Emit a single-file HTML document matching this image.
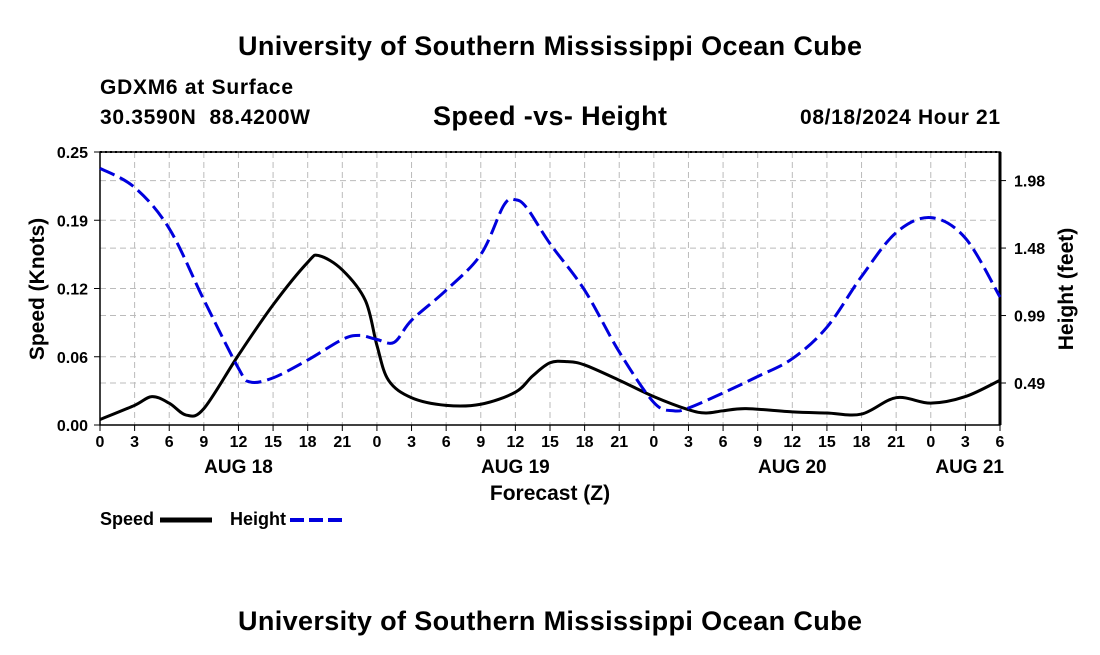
<!DOCTYPE html>
<html><head><meta charset="utf-8"><style>
body{margin:0;background:#fff;width:1100px;height:650px;overflow:hidden;font-family:"Liberation Sans",sans-serif;}
svg text{font-family:"Liberation Sans",sans-serif;font-weight:bold;fill:#000;white-space:pre;}
</style></head><body>
<svg id="c" width="1100" height="650">
<text x="550" y="55" font-size="27" text-anchor="middle" textLength="624">University of Southern Mississippi Ocean Cube</text>
<text x="100" y="94" font-size="21" textLength="193">GDXM6 at Surface</text>
<text x="100" y="124" font-size="21" textLength="210" xml:space="preserve">30.3590N  88.4200W</text>
<text x="550" y="125" font-size="27" text-anchor="middle" textLength="234">Speed -vs- Height</text>
<text x="1000" y="124" font-size="21" text-anchor="end" textLength="200">08/18/2024 Hour 21</text>
<text x="550" y="630" font-size="27" text-anchor="middle" textLength="624">University of Southern Mississippi Ocean Cube</text>
<g id="grid"></g><g id="axes"></g><g id="series"></g>
<text x="550" y="500" font-size="21" text-anchor="middle">Forecast (Z)</text>
<text transform="translate(44,289) rotate(-90)" font-size="21" text-anchor="middle">Speed (Knots)</text>
<text transform="translate(1073,289) rotate(-90)" font-size="21" text-anchor="middle">Height (feet)</text>
<g>
<text x="100" y="525" font-size="18">Speed</text>
<line x1="160" y1="520" x2="212" y2="520" stroke="#000" stroke-width="5"/>
<text x="230" y="525" font-size="18">Height</text>
<line x1="290" y1="520" x2="342" y2="520" stroke="#0000dd" stroke-width="4" stroke-dasharray="14,5"/>
</g>
</svg>
<script>
const speedHours=[0,3,4.5,6,7.5,9,12,15,18,19,21,23,24,25,27,30,33,36,37.5,39,40.5,42,45,48,51,52.5,54,56,60,63,66,69,72,75,78];
const speedValues=[0.005,0.018,0.026,0.020,0.009,0.015,0.064,0.110,0.149,0.155,0.142,0.114,0.073,0.041,0.025,0.018,0.019,0.030,0.045,0.057,0.058,0.055,0.041,0.026,0.014,0.011,0.013,0.015,0.012,0.011,0.010,0.025,0.020,0.026,0.041];
const heightHours=[0,3,6,9,12,13,15,18,21,22.5,24,25.5,27,30,33,35,36,37,39,42,45,48,49.7,51,54,57,60,63,66,69,72,75,78];
const heightValues=[2.06,1.92,1.62,1.10,0.60,0.50,0.53,0.66,0.81,0.84,0.81,0.79,0.95,1.17,1.43,1.79,1.83,1.77,1.51,1.17,0.72,0.35,0.29,0.31,0.42,0.54,0.67,0.90,1.27,1.59,1.70,1.55,1.12];
const xTickLabels=["0","3","6","9","12","15","18","21","0","3","6","9","12","15","18","21","0","3","6","9","12","15","18","21","0","3","6"];
const dayLabels=["AUG 18","AUG 19","AUG 20","AUG 21"];
const dayHours=[12,36,60,78];
const speedTicks=[0,0.0625,0.125,0.1875,0.25];
const speedTickLabels=["0.00","0.06","0.12","0.19","0.25"];
const heightTicks=[0.4925,0.985,1.4775,1.97];
const heightTickLabels=["0.49","0.99","1.48","1.98"];
const X0=100,X1=1000,Y0=425,Y1=152;
const x=h=>X0+h*(X1-X0)/78;
const ys=v=>Y0-v*(Y0-Y1)/0.25;
const yh=v=>Y0-(v-0.186)*137;
const NS="http://www.w3.org/2000/svg";
function mk(t,p,a){const e=document.createElementNS(NS,t);for(const k in a)e.setAttribute(k,a[k]);document.getElementById(p).appendChild(e);return e;}
xTickLabels.forEach((l,i)=>{const e=mk('line','grid',{x1:x(i*3),x2:x(i*3),y1:Y1,y2:Y0,stroke:'#bbb','stroke-dasharray':'6,4'});

});
speedTicks.forEach(v=>{const e=mk('line','grid',{x1:X0,x2:X1,y1:ys(v),y2:ys(v),stroke:'#bbb','stroke-dasharray':'6,4'});

});
heightTicks.forEach(v=>{const e=mk('line','grid',{x1:X0,x2:X1,y1:yh(v),y2:yh(v),stroke:'#bbb','stroke-dasharray':'6,4'});

});
const fr=mk('rect','axes',{x:X0,y:Y1,width:X1-X0,height:Y0-Y1,fill:'none',stroke:'#000','stroke-width':1.5});


mk('line','axes',{x1:X0,x2:X1,y1:Y1,y2:Y1,stroke:'#000','stroke-width':2,'stroke-dasharray':'2,3'});
mk('line','axes',{x1:X1,x2:X1,y1:Y1,y2:Y0,stroke:'#000','stroke-width':3});
xTickLabels.forEach((l,i)=>{mk('line','axes',{x1:x(i*3),x2:x(i*3),y1:Y0,y2:Y0+6,stroke:'#000'});
const t=mk('text','axes',{x:x(i*3),y:Y0+22,'font-size':16,'text-anchor':'middle'});t.textContent=l;

});
dayLabels.forEach((l,i)=>{const t=mk('text','axes',{x:x(dayHours[i]),y:473,'font-size':19,'text-anchor':i==3?'end':'middle'});if(i==3)t.setAttribute('x',x(dayHours[i])+4);t.textContent=l;

});
speedTicks.forEach((v,i)=>{mk('line','axes',{x1:X0-6,x2:X0,y1:ys(v),y2:ys(v),stroke:'#000'});
const t=mk('text','axes',{x:X0-12,y:ys(v)+6,'font-size':16,'text-anchor':'end'});t.textContent=speedTickLabels[i];

});
heightTicks.forEach((v,i)=>{mk('line','axes',{x1:X1,x2:X1+6,y1:yh(v),y2:yh(v),stroke:'#000'});
const t=mk('text','axes',{x:X1+14,y:yh(v)+6,'font-size':16});t.textContent=heightTickLabels[i];

});
function smooth(pts){let d=`M${pts[0][0]},${pts[0][1]}`;for(let i=0;i<pts.length-1;i++){const p0=pts[i-1]||pts[i],p1=pts[i],p2=pts[i+1],p3=pts[i+2]||p2;
d+=` C${p1[0]+(p2[0]-p0[0])/6},${p1[1]+(p2[1]-p0[1])/6} ${p2[0]-(p3[0]-p1[0])/6},${p2[1]-(p3[1]-p1[1])/6} ${p2[0]},${p2[1]}`;}return d;}
const sp=mk('path','series',{d:smooth(speedHours.map((h,i)=>[x(h),ys(speedValues[i])])),fill:'none',stroke:'#000','stroke-width':3});


const hp=mk('path','series',{d:smooth(heightHours.map((h,i)=>[x(h),yh(heightValues[i])])),fill:'none',stroke:'#0000dd','stroke-width':3,'stroke-dasharray':'16,6'});


</script>
</body></html>
